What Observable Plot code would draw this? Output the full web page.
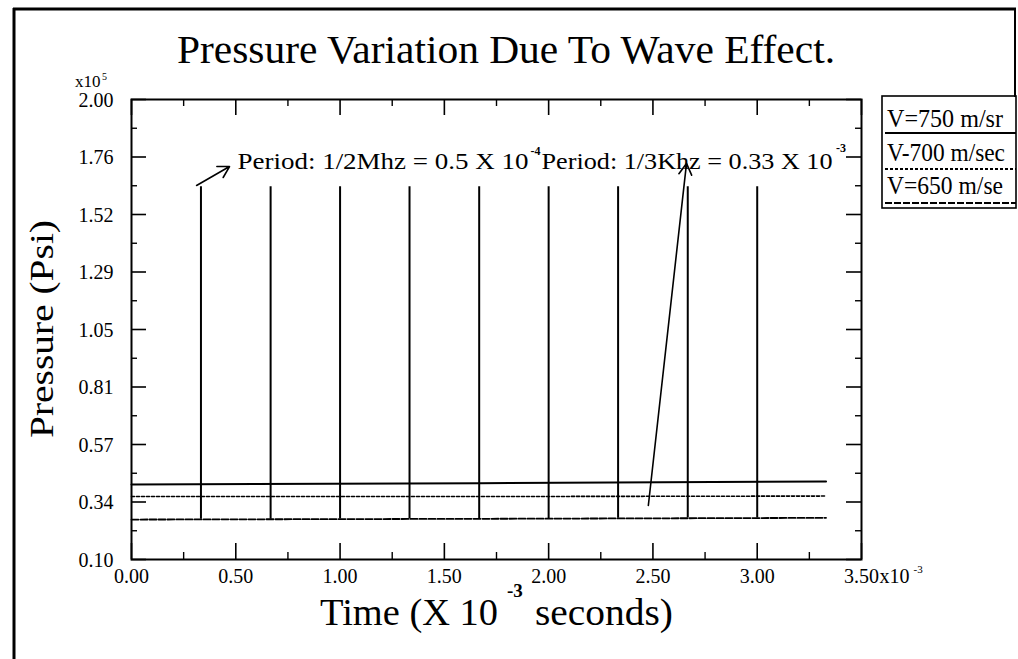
<!DOCTYPE html>
<html><head><meta charset="utf-8">
<script src="https://cdn.jsdelivr.net/npm/d3@7"></script>
<script src="https://cdn.jsdelivr.net/npm/@observablehq/plot@0.6"></script>
<style>
body{margin:0;background:#fff;}
#wrap{position:relative;width:1018px;height:659px;overflow:hidden;background:#fff;}
#wrap svg{position:absolute;left:0;top:0;}
</style></head><body><div id="wrap"></div>
<script>
// ---- data ----
const timeKnots = [0, 1.67, 3.33];
const v750 = [0.41, 0.415, 0.422];
const v700 = [0.36, 0.36, 0.362];
const v650 = [0.265, 0.268, 0.272];
const seriesNames = ["V=750 m/sr", "V-700 m/sec", "V=650 m/se"];
const spikeTimes = [0.333, 0.667, 1.0, 1.333, 1.667, 2.0, 2.333, 2.667, 3.0];
const spikeTop = [1.64, 1.64, 1.64, 1.64, 1.64, 1.64, 1.64, 1.64, 1.64];
const spikeBase = [0.266, 0.266, 0.267, 0.267, 0.268, 0.269, 0.270, 0.271, 0.271];
const xTickValues = [0, 0.5, 1, 1.5, 2, 2.5, 3, 3.5];
const xTickLabels = ["0.00", "0.50", "1.00", "1.50", "2.00", "2.50", "3.00", "3.50"];
const xMinorValues = [0.25, 0.75, 1.25, 1.75, 2.25, 2.75, 3.25];
const yTickValues = [0.1, 0.3375, 0.575, 0.8125, 1.05, 1.2875, 1.525, 1.7625, 2.0];
const yTickLabels = ["0.10", "0.34", "0.57", "0.81", "1.05", "1.29", "1.52", "1.76", "2.00"];
const yMinorValues = [0.21875, 0.45625, 0.69375, 0.93125, 1.16875, 1.40625, 1.64375, 1.88125];
const annotations = [
  {x: 0.508, y: 1.744, text: "Period: 1/2Mhz = 0.5 X 10", len: 291},
  {x: 1.966, y: 1.744, text: "Period: 1/3Khz = 0.33 X 10", len: 291}
];
const superscripts = [
  {x: 1.913, y: 1.785, text: "-4"},
  {x: 3.378, y: 1.800, text: "-3"}
];
const arrows = [
  {x1: 0.312, y1: 1.645, x2: 0.47, y2: 1.723},
  {x1: 2.478, y1: 0.323, x2: 2.661, y2: 1.736}
];

// ---- build table ----
const rows = [];
[v750, v700, v650].forEach((arr, s) => arr.forEach((p, i) => rows.push({t: timeKnots[i], p, s: seriesNames[s]})));
const W = 1018, H = 659, mL = 131, mR = 157, mT = 99, mB = 100;
const pw = W - mL - mR, ph = H - mT - mB;
const serif = "Liberation Serif, Times New Roman, serif";

const chart = Plot.plot({
  width: W, height: H,
  marginLeft: mL, marginRight: mR, marginTop: mT, marginBottom: mB,
  style: {fontFamily: serif, background: "white", color: "black"},
  x: {domain: [0, 3.5], axis: null},
  y: {domain: [0.1, 2.0], axis: null},
  marks: [
    Plot.line(rows.filter(d => d.s === seriesNames[0]), {x: "t", y: "p", stroke: "black", strokeWidth: 2}),
    Plot.line(rows.filter(d => d.s === seriesNames[1]), {x: "t", y: "p", stroke: "black", strokeWidth: 1.6, strokeDasharray: "3,2"}),
    Plot.line(rows.filter(d => d.s === seriesNames[2]), {x: "t", y: "p", stroke: "black", strokeWidth: 1.8, strokeDasharray: "7,2"}),
    Plot.ruleX(spikeTimes, {x: d => d, y1: (d, i) => spikeBase[i], y2: (d, i) => spikeTop[i], stroke: "black", strokeWidth: 2}),
    Plot.tickY(yTickValues, {y: d => d, insetRight: pw - 15, strokeWidth: 1.6}),
    Plot.tickY(yMinorValues, {y: d => d, insetRight: pw - 6, strokeWidth: 1.4}),
    Plot.tickY(yTickValues, {y: d => d, insetLeft: pw - 15, strokeWidth: 1.6}),
    Plot.tickY(yMinorValues, {y: d => d, insetLeft: pw - 6, strokeWidth: 1.4}),
    Plot.tickX(xTickValues, {x: d => d, insetTop: ph - 16, strokeWidth: 1.6}),
    Plot.tickX(xMinorValues, {x: d => d, insetTop: ph - 7, strokeWidth: 1.4}),
    Plot.tickX(xTickValues, {x: d => d, insetBottom: ph - 16, strokeWidth: 1.6}),
    Plot.tickX(xMinorValues, {x: d => d, insetBottom: ph - 7, strokeWidth: 1.4}),
    Plot.frame({stroke: "black", strokeWidth: 2}),
    Plot.text(yTickValues, {y: d => d, text: (d, i) => yTickLabels[i], frameAnchor: "left", dx: -18, dy: 1, textAnchor: "end", fontSize: 20, fill: "black"}),
    Plot.text(xTickValues, {x: d => d, text: (d, i) => xTickLabels[i], frameAnchor: "bottom", dy: 23, fontSize: 20, fill: "black"}),
    Plot.text([3.5], {x: d => d, text: () => "x10", frameAnchor: "bottom", dx: 18, dy: 23, textAnchor: "start", fontSize: 20, fill: "black"}),
    Plot.text([3.5], {x: d => d, text: () => "-3", frameAnchor: "bottom", dx: 52, dy: 13, textAnchor: "start", fontSize: 11, fill: "black"}),
    Plot.text(annotations, {x: "x", y: "y", text: "text", textAnchor: "start", fontSize: 24, fill: "black"}),
    Plot.text(superscripts, {x: "x", y: "y", text: "text", textAnchor: "start", fontSize: 12, fontWeight: "bold", fill: "black"}),
    Plot.arrow(arrows, {x1: "x1", y1: "y1", x2: "x2", y2: "y2", stroke: "black", strokeWidth: 1.6, headLength: 12})
  ]
});
document.getElementById("wrap").appendChild(chart);
// stretch annotation texts to the reference widths
chart.querySelectorAll("text").forEach(t => {
  const a = annotations.find(d => d.text === t.textContent);
  if (a) { t.setAttribute("textLength", a.len); t.setAttribute("lengthAdjust", "spacingAndGlyphs"); }
});

// ---- overlay: title, axis labels, legend, page border ----
const ov = d3.select("#wrap").append("svg").attr("width", W).attr("height", H)
  .style("font-family", serif).style("pointer-events", "none");
function txt(x, y, s, size, opts = {}) {
  const t = ov.append("text").attr("x", x).attr("y", y).attr("font-size", size).attr("fill", "black").text(s);
  if (opts.len) t.attr("textLength", opts.len).attr("lengthAdjust", "spacingAndGlyphs");
  if (opts.anchor) t.attr("text-anchor", opts.anchor);
  if (opts.transform) t.attr("transform", opts.transform);
  if (opts.weight) t.attr("font-weight", opts.weight);
  return t;
}
// page border
ov.append("line").attr("x1", 14).attr("x2", 14).attr("y1", 8).attr("y2", H).attr("stroke", "black").attr("stroke-width", 3);
ov.append("line").attr("x1", 13).attr("x2", 1016).attr("y1", 9).attr("y2", 9).attr("stroke", "black").attr("stroke-width", 3);
ov.append("line").attr("x1", 1015).attr("x2", 1015).attr("y1", 8).attr("y2", 97).attr("stroke", "black").attr("stroke-width", 2);
// title
txt(177, 63, "Pressure Variation Due To Wave Effect.", 40, {len: 658});
// y unit
txt(75, 87, "x10", 17);
txt(102, 80, "5", 10);
// y label
txt(0, 0, "Pressure (Psi)", 34, {len: 218, anchor: "middle", transform: "translate(53,329) rotate(-90)"});
// x label
txt(320, 625, "Time (X 10", 38, {len: 178});
txt(507, 597, "-3", 19, {weight: "bold"});
txt(535, 625, "seconds)", 38, {len: 138});
// legend
ov.append("rect").attr("x", 882).attr("y", 96).attr("width", 134).attr("height", 112).attr("fill", "none").attr("stroke", "black").attr("stroke-width", 1.6);
const legendY = [127, 161, 194];
const legendLineY = [133, 169, 203];
const legendDash = [null, "3,2", "7,2"];
const legendLen = [116, 118, 116];
seriesNames.forEach((n, i) => {
  txt(887, legendY[i], n, 26, {len: legendLen[i]});
  const l = ov.append("line").attr("x1", 885).attr("x2", 1016).attr("y1", legendLineY[i]).attr("y2", legendLineY[i]).attr("stroke", "black").attr("stroke-width", 1.8);
  if (legendDash[i]) l.attr("stroke-dasharray", legendDash[i]);
});
</script></body></html>
